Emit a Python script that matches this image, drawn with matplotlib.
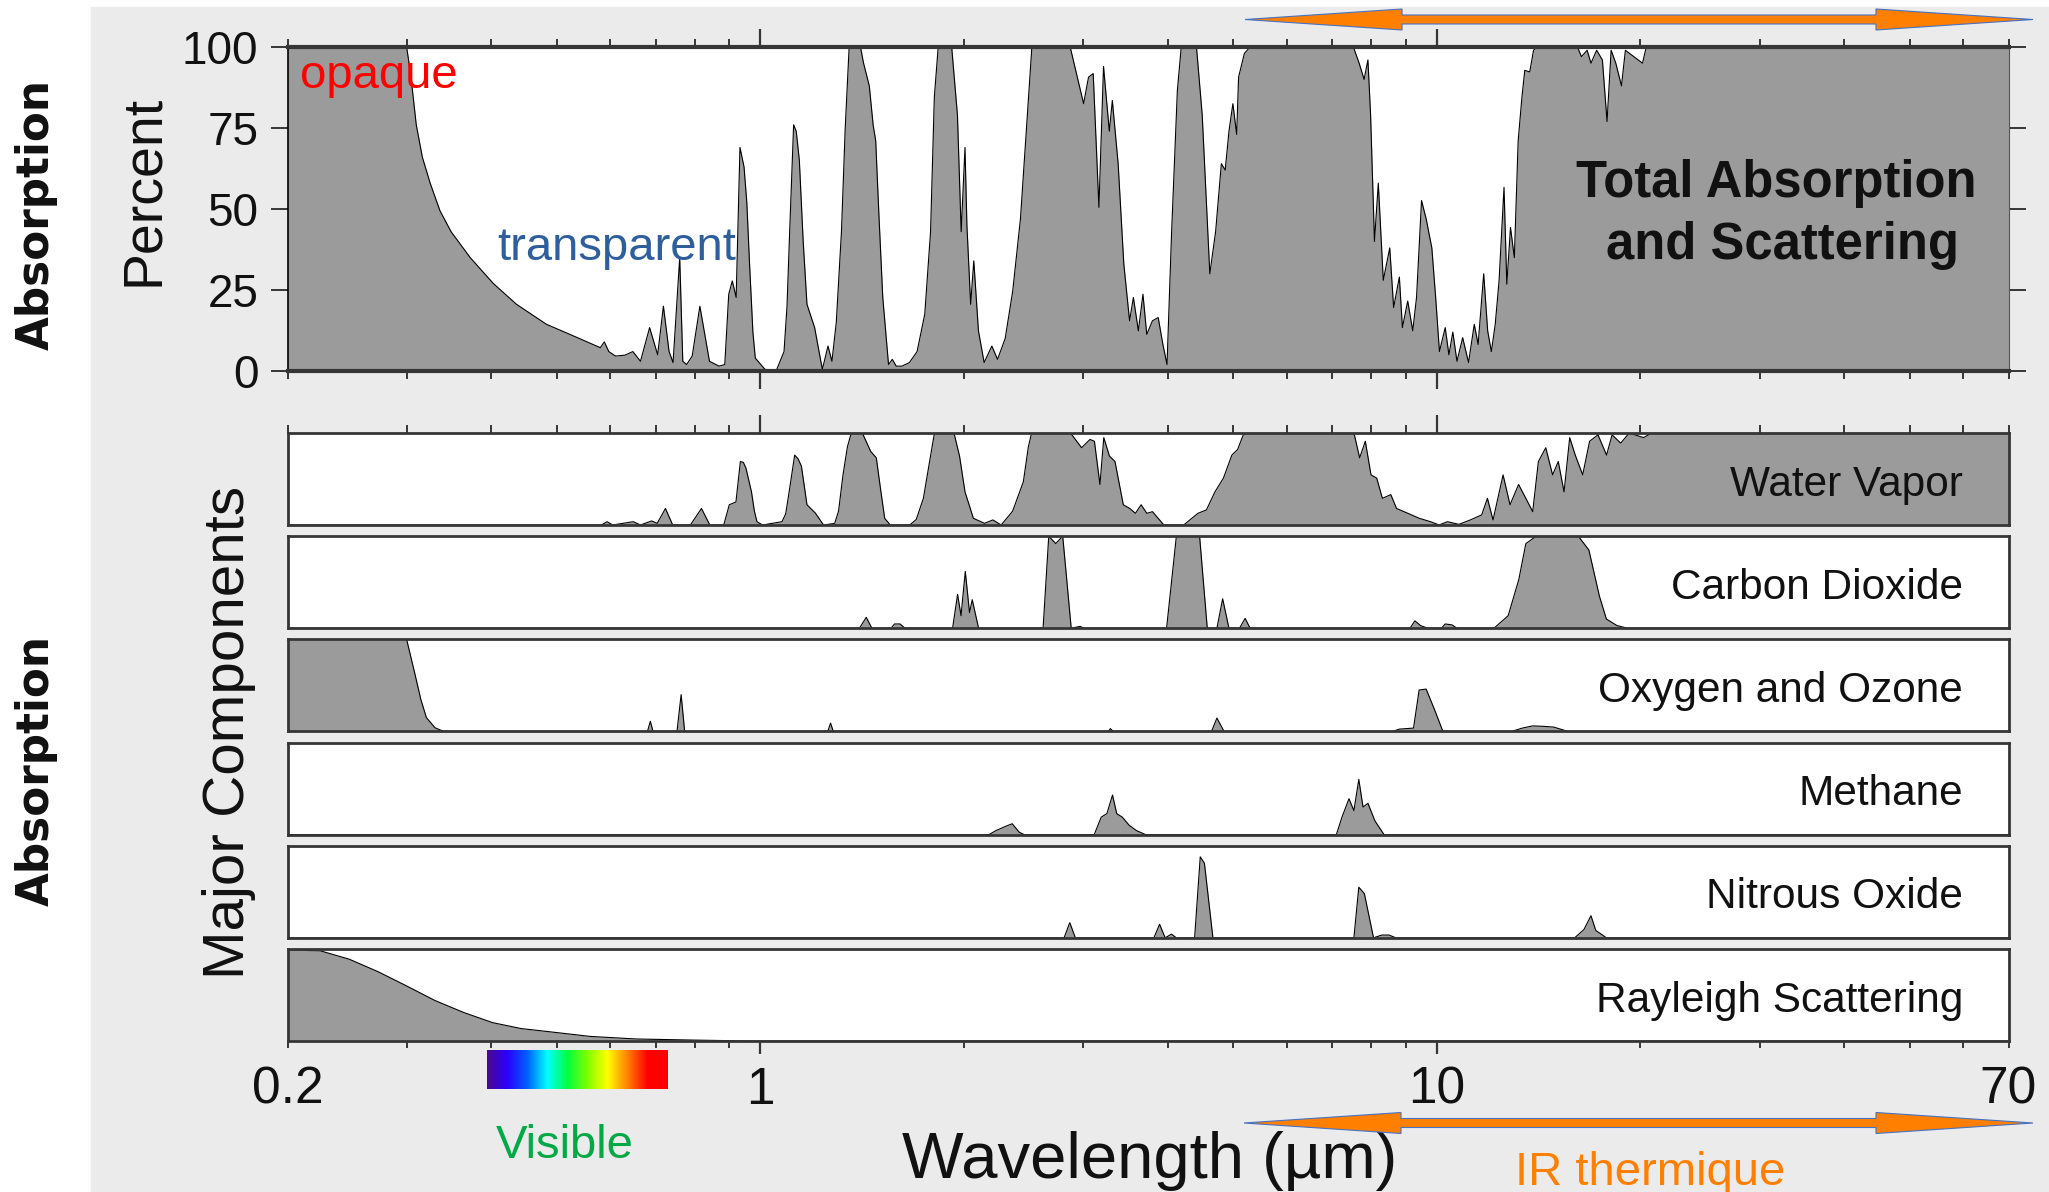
import numpy as np
import matplotlib
matplotlib.use("Agg")
import matplotlib.pyplot as plt
from matplotlib.patches import Rectangle, Polygon
from matplotlib.colors import LinearSegmentedColormap
from matplotlib.ticker import LogLocator, FuncFormatter, NullFormatter

plt.rcParams['font.family'] = ['Liberation Sans', 'DejaVu Sans']

W, H = 2049, 1192

# --- data: wavelength (um) / absorption (%) ---
total_wl = [0.2, 0.30, 0.304, 0.310, 0.3165, 0.325, 0.336, 0.349, 0.3725, 0.403, 0.436, 0.483, 0.523,
            0.580, 0.588, 0.597, 0.611, 0.631, 0.648, 0.665, 0.686, 0.705, 0.719, 0.733, 0.743, 0.760,
            0.768, 0.778, 0.793, 0.814, 0.841, 0.869, 0.886, 0.898, 0.909, 0.921, 0.933, 0.946, 0.955,
            0.964, 0.975, 0.983, 1.016, 1.056, 1.084, 1.095, 1.105, 1.12, 1.13, 1.142, 1.157, 1.172,
            1.203, 1.235, 1.259, 1.276, 1.295, 1.318, 1.335, 1.353, 1.406, 1.421, 1.449, 1.468, 1.481,
            1.497, 1.517, 1.547, 1.567, 1.588, 1.619, 1.661,
            1.705, 1.750, 1.785, 1.808, 1.832, 1.918, 1.956, 1.981, 2.007, 2.020, 2.046, 2.068, 2.101,
            2.142, 2.199, 2.242, 2.301, 2.361, 2.424, 2.472, 2.520, 2.871, 2.947, 3.005, 3.056, 3.105,
            3.166, 3.216, 3.280, 3.314, 3.380, 3.446, 3.514, 3.560, 3.621, 3.678, 3.726, 3.799, 3.874,
            3.936, 3.992, 4.055, 4.135, 4.19, 4.413, 4.500, 4.560, 4.618, 4.710, 4.803, 4.866, 4.929,
            4.995, 5.060, 5.093, 5.194, 5.296, 7.528, 7.677, 7.807, 7.910, 7.982, 8.088, 8.194, 8.334,
            8.520, 8.633, 8.803, 8.895, 9.057, 9.213, 9.333, 9.493, 9.643, 9.832, 9.961, 10.09, 10.29,
            10.42, 10.56, 10.71, 10.92, 11.14, 11.36, 11.51, 11.73, 11.89, 12.04, 12.20, 12.36, 12.57,
            12.69, 12.85, 13.02, 13.19, 13.36, 13.49, 13.72, 13.90, 14.08, 16.14, 16.36, 16.68, 16.90,
            17.23, 17.57, 17.85, 18.10, 18.39, 18.75, 19.00, 20.14, 20.40, 70]
total_pct = [100, 100, 92, 76, 66, 58, 49.5, 43, 35, 27, 20.6, 14.4, 11.3,
             7.2, 9, 6, 4.6, 4.9, 6, 3, 13.4, 5, 20, 6, 2.6, 35,
             3, 2, 4.6, 20, 3, 1.5, 2, 23.7, 27.8, 22.7, 69, 63, 52,
             33, 12, 4, 0.5, 0.2, 6, 20, 43, 76, 74, 65, 40, 20.6,
             13.4, 0.5, 7.7, 3, 15, 43, 75, 100, 100, 95, 88, 76, 71,
             48.5, 22.7, 2, 3.6, 1.5, 1.5, 2.6,
             6, 17.5, 43, 84.5, 100, 100, 79, 43, 69, 45, 20.6, 34, 12.4,
             2.6, 7.7, 3.6, 10, 24.7, 47, 74, 100, 100, 90, 82.5, 90.7, 91.8,
             50.5, 94, 74, 83.5, 64, 33, 15.5, 22.7, 12.4, 23.7, 11.3, 15.5, 16.5,
             8.2, 2, 43, 86.6, 100, 100, 79, 53.6, 30, 43, 64, 62, 74,
             82.5, 73, 90.7, 98, 100, 100, 95, 90, 96, 79, 40, 58, 28,
             38, 19.6, 29, 13.4, 21.6, 12.4, 22.7, 52.6, 47, 38, 22.7, 6, 13.4,
             5, 12, 3, 10.3, 2.6, 14.4, 8.2, 30, 12.4, 6, 14.4, 27.8, 56.7,
             26.8, 44.3, 35, 71, 84.5, 92.8, 92.3, 99, 100, 100, 97, 99, 95,
             99, 96, 77, 99, 95, 88, 99, 95, 100, 100]

h2o_wl = [0.2, 0.5824, 0.5936, 0.605, 0.6489, 0.665, 0.6908, 0.704, 0.724, 0.7421, 0.7881, 0.8185,
          0.842, 0.8829, 0.8997, 0.9203, 0.9343, 0.944, 0.9521, 0.9703, 0.98, 0.9887, 1.0076, 1.0764,
          1.09, 1.103, 1.124, 1.137, 1.150, 1.16, 1.172, 1.206, 1.240, 1.288, 1.305, 1.325, 1.345,
          1.363, 1.415, 1.456, 1.484, 1.505, 1.527, 1.556, 1.663, 1.70,
          1.742, 1.78, 1.809, 1.933, 1.97, 2.007, 2.065, 2.145, 2.207, 2.270, 2.36, 2.448, 2.49, 2.518,
          2.874, 2.985, 3.071,
          3.118, 3.177, 3.219, 3.281, 3.344, 3.440, 3.516, 3.585, 3.655, 3.727, 3.799, 3.950, 4.225,
          4.435, 4.565, 4.699, 4.837, 4.978, 5.076, 5.175, 5.276, 7.543, 7.690, 7.840, 7.993, 8.150,
          8.309, 8.551, 8.718, 9.062, 9.419, 9.788, 10.08, 10.37, 10.78, 11.21, 11.65, 11.88, 12.11,
          12.53, 12.83, 13.21, 13.54, 13.86, 14.13, 14.49, 14.83, 15.12, 15.42, 15.72, 16.02, 16.43,
          16.82, 17.31, 17.82, 18.16, 18.70, 19.25, 20.21, 20.80, 70]
h2o_pct = [0, 0, 3.6, 0, 3.6, 0, 4.4, 1.8, 18, 0, 0, 18,
           0, 0, 22, 25, 69, 68, 62, 36, 15, 3.6, 0, 3.6,
           12, 36, 76, 72, 64, 45, 22, 13, 0, 1.8, 15, 54.5, 85,
           100, 100, 80, 73, 40, 7.3, 0, 0, 6,
           29, 70, 100, 100, 75, 36, 7.3, 1.8, 5.5, 0, 15, 47, 85, 100,
           100, 84, 93,
           91, 44, 95, 75, 69, 22, 18, 12.7, 22, 12.7, 14.5, 0, 0,
           12.7, 16.4, 36, 51, 76, 82, 98, 100, 100, 73, 91, 54.5, 51,
           29, 33, 18, 12.7, 7.3, 3.6, 0, 3.6, 0.7, 5.5, 11, 29, 5.5,
           54.5, 22, 44, 29, 14.5, 69, 84, 54.5, 69, 36, 95, 76, 54.5,
           91, 98, 76, 98, 89, 100, 95, 100, 100]

co2_wl = [0.2, 1.401, 1.434, 1.462, 1.560, 1.579, 1.609, 1.636, 1.924, 1.957, 1.980, 2.009, 2.038,
          2.057, 2.102, 2.618, 2.669, 2.733, 2.799, 2.881, 2.971, 3.007, 3.986, 4.121, 4.460, 4.578,
          4.731, 4.824, 4.929, 5.109, 5.208, 5.296, 9.127, 9.281, 9.460, 9.688, 10.16, 10.29, 10.53,
          10.71, 12.15, 12.75, 13.22, 13.54, 14.03, 16.19, 16.78, 17.39, 17.81, 18.46, 19.13, 70]
co2_pct = [0, 0, 11.8, 0, 0, 4.6, 4.6, 0, 0, 36.8, 13.6, 61.8, 17,
           31, 0, 0, 100, 92, 100, 0, 2, 0, 0, 100, 100, 0,
           0, 32, 0, 0, 10.7, 0, 0, 8, 2.9, 0, 0, 4.6, 3.6,
           0, 0, 13.6, 53, 92, 100, 100, 85, 35, 10, 2.9, 0, 0]

o3_wl = [0.2, 0.30, 0.3087, 0.3148, 0.3209, 0.3304, 0.3402, 0.681, 0.6877, 0.694, 0.753, 0.7637,
         0.7729, 1.258, 1.270, 1.282, 3.268, 3.292, 3.324, 4.645, 4.731, 4.847, 8.60, 8.807, 9.238,
         9.416, 9.643, 9.924, 10.21, 12.90, 13.38, 13.86, 14.37, 14.89, 15.62, 70]
o3_pct = [100, 100, 62, 35, 15, 4, 0, 0, 11, 0, 0, 40,
          0, 0, 9, 0, 0, 3, 0, 0, 14.5, 0, 0, 2.5, 3.6,
          45, 46, 23.6, 0, 0, 3.6, 6, 5.5, 4.7, 0, 0]

ch4_wl = [0.2, 2.178, 2.231, 2.301, 2.357, 2.414, 2.455, 3.116, 3.191, 3.253, 3.316, 3.364, 3.428,
          3.511, 3.597, 3.710, 7.104, 7.241, 7.416, 7.541, 7.668, 7.779, 7.910, 8.100, 8.356, 70]
ch4_pct = [0, 0, 4.4, 8.8, 11.8, 2.6, 0, 0, 19, 22.8, 43, 22.8, 19,
           10, 4.4, 0, 0, 19, 39, 26, 60, 30, 34, 15, 0, 0]

n2o_wl = [0.2, 2.812, 2.867, 2.922, 3.818, 3.892, 3.967, 4.053, 4.121, 4.385, 4.470, 4.534, 4.667,
          7.541, 7.668, 7.815, 8.062, 8.296, 8.496, 8.702, 15.99, 16.50, 16.90, 17.18, 17.81, 70]
n2o_pct = [0, 0, 16.5, 0, 0, 14.7, 0, 4, 0, 0, 88, 81, 0,
           0, 55, 48, 0, 3, 3, 0, 0, 9, 24, 8, 0, 0]

ray_wl = [0.2, 0.2237, 0.2466, 0.2719, 0.2997, 0.3304, 0.3643, 0.4018, 0.4431, 0.4886, 0.5602,
          0.6548, 0.7962, 0.968, 70]
ray_pct = [99, 98, 89, 75.5, 60, 44, 31, 20, 13.5, 10, 5, 2.2, 1, 0, 0]

strip_names = ["Water Vapor", "Carbon Dioxide", "Oxygen and Ozone",
               "Methane", "Nitrous Oxide", "Rayleigh Scattering"]
strip_data = [(h2o_wl, h2o_pct), (co2_wl, co2_pct), (o3_wl, o3_pct),
              (ch4_wl, ch4_pct), (n2o_wl, n2o_pct), (ray_wl, ray_pct)]

pct_ticks = [0, 25, 50, 75, 100]
wl_labels = {0.2: "0.2", 1: "1", 10: "10", 70: "70"}

FILL = '#9b9b9b'
SPINE = '#363636'
TXT = '#111111'


def fx(x):
    return x / W


def fy(y):
    return 1 - y / H


def px_axes(l, t, r, b):
    return [fx(l), fy(b), (r - l) / W, (b - t) / H]


def log_axis(a):
    a.set_xscale('log')
    a.set_xlim(0.2, 70)
    a.xaxis.set_major_locator(LogLocator(base=10))
    a.xaxis.set_minor_locator(LogLocator(base=10, subs=np.arange(2, 10)))
    a.xaxis.set_major_formatter(NullFormatter())
    a.xaxis.set_minor_formatter(NullFormatter())


def double_arrow(x0, x1, yc, shaft=9, head_len=157, head_h=21):
    hh, sw = head_h / 2, shaft / 2
    pts = [(x0, yc), (x0 + head_len, yc - hh), (x0 + head_len, yc - sw), (x1 - head_len, yc - sw),
           (x1 - head_len, yc - hh), (x1, yc), (x1 - head_len, yc + hh), (x1 - head_len, yc + sw),
           (x0 + head_len, yc + sw), (x0 + head_len, yc + hh)]
    fig.patches.append(Polygon([(fx(x), fy(y)) for x, y in pts], closed=True,
                               transform=fig.transFigure, fc='#ff8000', ec='#4472c4',
                               lw=0.8, zorder=5))


fig = plt.figure(figsize=(W / 100, H / 100), dpi=100)
fig.patches.append(Rectangle((fx(91), 0), 1 - fx(91), fy(7), transform=fig.transFigure,
                             color='#ebebeb', zorder=-5))

# top panel: total absorption
ax = fig.add_axes(px_axes(287.5, 47, 2008.5, 371), zorder=1)
ax.fill_between(total_wl, total_pct, 0, color=FILL, lw=0)
ax.plot(total_wl, total_pct, color='k', lw=0.8)
log_axis(ax)
ax.set_ylim(0, 100)
ax.set_yticks(pct_ticks)
ax.tick_params(axis='y', left=True, right=True, direction='out', length=12, width=1.4,
               color=SPINE, labelsize=33, labelcolor=TXT, pad=9)
ax.tick_params(axis='x', which='both', top=True, bottom=True, direction='out', color=SPINE,
               labelbottom=False)
ax.tick_params(axis='x', which='major', length=13, width=1.6)
ax.tick_params(axis='x', which='minor', length=6, width=1.4)
for s in ['top', 'bottom']:
    ax.spines[s].set_linewidth(3)
    ax.spines[s].set_color(SPINE)
ax.spines['left'].set_linewidth(1.2)
ax.spines['right'].set_linewidth(0.8)
ax.spines['right'].set_color('#555555')

ax.text(fx(300), fy(88), "opaque", transform=fig.transFigure, fontsize=34, color='#ff0000',
        va='baseline', zorder=6)
ax.text(fx(497), fy(260), "transparent", transform=fig.transFigure, fontsize=34,
        color='#2e5f9c', va='baseline', zorder=6)
ax.text(fx(1776), fy(197), "Total Absorption", transform=fig.transFigure, fontsize=36.5,
        fontweight='bold', color=TXT, ha='center', va='baseline', zorder=6)
ax.text(fx(1782), fy(259), "and Scattering", transform=fig.transFigure, fontsize=36.5,
        fontweight='bold', color=TXT, ha='center', va='baseline', zorder=6)

# lower panel: one strip per component
top0, pitch, hgt = 433, 103.2, 92
n = len(strip_names)
for i, (name, (wl, pct)) in enumerate(zip(strip_names, strip_data)):
    t = top0 + i * pitch
    a = fig.add_axes(px_axes(287.5, t, 2008.5, t + hgt), zorder=1)
    a.fill_between(wl, pct, 0, color=FILL, lw=0)
    a.plot(wl, pct, color='k', lw=0.8)
    log_axis(a)
    a.set_ylim(0, 100)
    a.set_yticks([])
    for s in a.spines.values():
        s.set_linewidth(2)
        s.set_color(SPINE)
    a.tick_params(axis='x', which='both', top=(i == 0), bottom=(i == n - 1), direction='out',
                  color=SPINE, labelbottom=False)
    if i == 0:
        a.tick_params(axis='x', which='major', length=13, width=1.6)
        a.tick_params(axis='x', which='minor', length=6, width=1.4)
    if i == n - 1:
        fmt = FuncFormatter(lambda v, p: wl_labels.get(round(v, 3), ''))
        a.xaxis.set_major_formatter(fmt)
        a.xaxis.set_minor_formatter(fmt)
        a.tick_params(axis='x', which='both', labelbottom=True, labelsize=37, labelcolor=TXT)
        a.tick_params(axis='x', which='major', length=9, width=1.6, pad=9)
        a.tick_params(axis='x', which='minor', length=5, width=1.4, pad=12.5)
    a.text(0.9736, 0.32, name, transform=a.transAxes, fontsize=30.5, color=TXT,
           ha='right', va='baseline')

# visible spectrum bar
spec = LinearSegmentedColormap.from_list('spec', ['#4b0a8c', '#2a00ff', '#0060ff', '#00ffff',
                                                  '#00ff40', '#80ff00', '#ffff00', '#ff8000',
                                                  '#ff0000', '#ff0000'])
cax = fig.add_axes(px_axes(487, 1050, 668, 1089), zorder=1)
cax.imshow(np.linspace(0, 1, 256)[None, :], aspect='auto', cmap=spec)
cax.axis('off')

# figure labels
fig.text(fx(36), fy(215), "Absorption", rotation=90, ha='center', va='center', fontsize=31.5,
         fontweight='bold', family='DejaVu Sans', color=TXT)
fig.text(fx(36), fy(770), "Absorption", rotation=90, ha='center', va='center', fontsize=31.5,
         fontweight='bold', family='DejaVu Sans', color=TXT)
fig.text(fx(144), fy(190), "Percent", rotation=90, ha='center', va='center', fontsize=40,
         color=TXT)
fig.text(fx(229), fy(732), "Major Components", rotation=90, ha='center', va='center',
         fontsize=42, color=TXT)
fig.text(fx(902), fy(1178), "Wavelength (µm)", ha='left', va='baseline', fontsize=47, color=TXT)
fig.text(fx(565), fy(1158), "Visible", ha='center', va='baseline', fontsize=34, color='#00a846')
fig.text(fx(1515), fy(1185), "IR thermique", ha='left', va='baseline', fontsize=34,
         color='#ff8000')

double_arrow(1245, 2033, 19.5)
double_arrow(1244, 2033, 1123)

fig.savefig('out.png', dpi=100)
